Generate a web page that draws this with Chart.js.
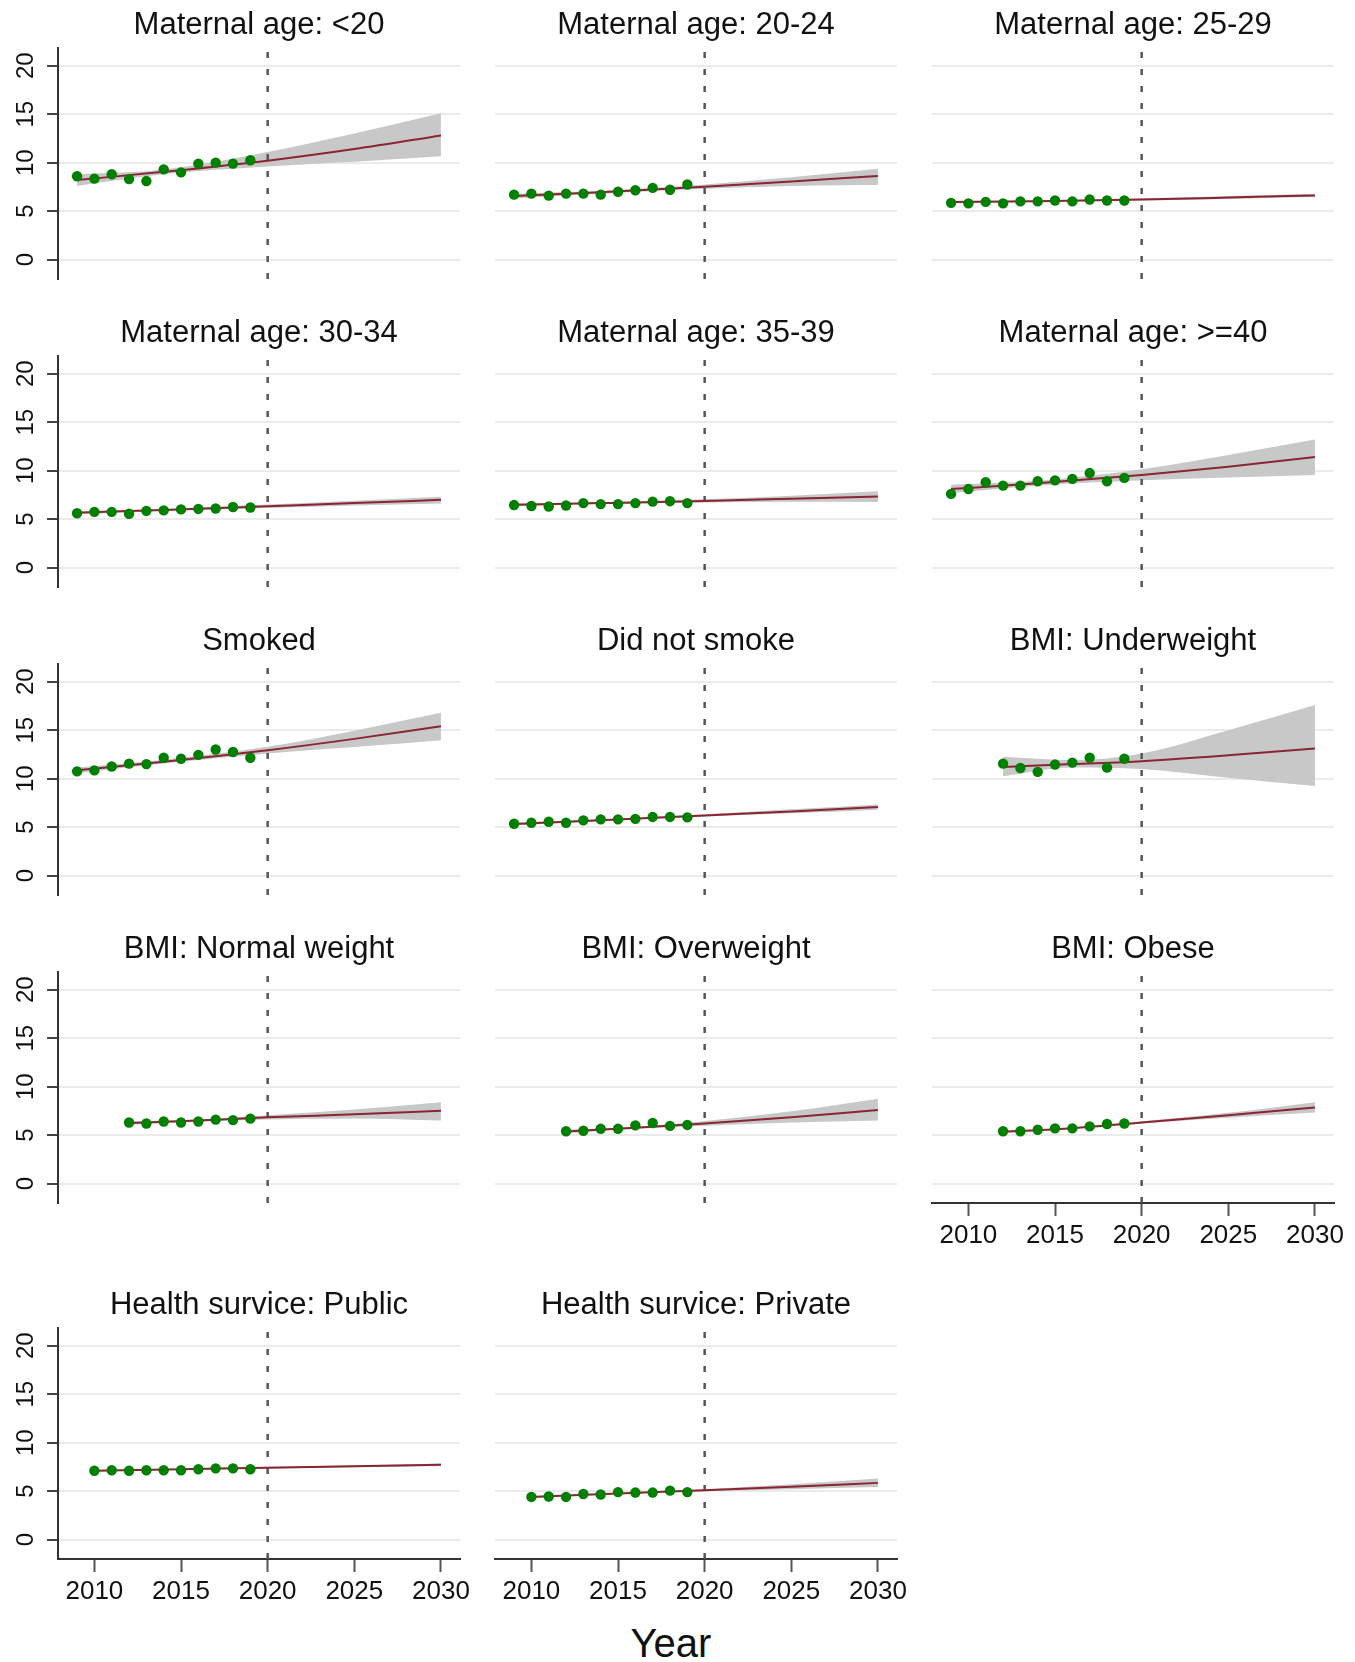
<!DOCTYPE html>
<html>
<head>
<meta charset="utf-8">
<script src="https://cdn.jsdelivr.net/npm/chart.js@4.4.1/dist/chart.umd.min.js"></script>
<style>
  html, body { margin: 0; background: #fff; }
  #wrap { position: relative; width: 1355px; height: 1662px; }
  #wrap canvas { position: absolute; }
  #xlab {
    position: absolute; left: 671px; top: 1643px; transform: translate(-50%, -50%);
    font: 40px "Liberation Sans", Arial, sans-serif; color: #111;
  }
</style>
</head>
<body>
<div id="wrap"><div id="xlab">Year</div></div>
<script>
// panel titles, in reading order
const titles = [
  'Maternal age: <20', 'Maternal age: 20-24', 'Maternal age: 25-29',
  'Maternal age: 30-34', 'Maternal age: 35-39', 'Maternal age: >=40',
  'Smoked', 'Did not smoke', 'BMI: Underweight',
  'BMI: Normal weight', 'BMI: Overweight', 'BMI: Obese',
  'Health survice: Public', 'Health survice: Private'
];
// first observed year of each panel (one point per year after it)
const firstYear = [2009, 2009, 2009, 2009, 2009, 2009, 2009, 2009, 2012, 2012, 2012, 2012, 2010, 2010];
const observed = [
  [8.6, 8.35, 8.8, 8.3, 8.1, 9.3, 9.0, 9.9, 10.0, 9.9, 10.25],
  [6.7, 6.8, 6.6, 6.8, 6.8, 6.7, 7.0, 7.15, 7.4, 7.2, 7.75],
  [5.85, 5.8, 5.95, 5.8, 6.0, 6.0, 6.1, 6.0, 6.2, 6.1, 6.1],
  [5.6, 5.75, 5.75, 5.55, 5.85, 5.9, 6.0, 6.05, 6.1, 6.25, 6.2],
  [6.45, 6.35, 6.3, 6.4, 6.65, 6.55, 6.55, 6.65, 6.8, 6.85, 6.65],
  [7.6, 8.1, 8.8, 8.45, 8.45, 8.9, 9.0, 9.15, 9.75, 8.9, 9.25],
  [10.75, 10.85, 11.25, 11.55, 11.5, 12.15, 12.05, 12.45, 13.0, 12.75, 12.15],
  [5.35, 5.45, 5.55, 5.45, 5.7, 5.8, 5.8, 5.85, 6.05, 6.05, 6.0],
  [11.55, 11.1, 10.7, 11.45, 11.65, 12.15, 11.15, 12.05],
  [6.3, 6.2, 6.4, 6.3, 6.4, 6.6, 6.55, 6.7],
  [5.4, 5.45, 5.65, 5.65, 6.0, 6.25, 5.95, 6.05],
  [5.4, 5.4, 5.55, 5.7, 5.7, 5.9, 6.15, 6.2],
  [7.1, 7.15, 7.1, 7.15, 7.15, 7.15, 7.25, 7.35, 7.35, 7.25],
  [4.4, 4.45, 4.4, 4.7, 4.65, 4.9, 4.85, 4.85, 5.05, 4.9]
];
const fitYears = [
  [2009, 2014, 2020, 2025, 2030], [2009, 2014, 2020, 2025, 2030], [2009, 2014, 2020, 2025, 2030],
  [2009, 2014, 2020, 2025, 2030], [2009, 2014, 2020, 2025, 2030], [2009, 2014, 2020, 2025, 2030],
  [2009, 2014, 2020, 2025, 2030], [2009, 2014, 2020, 2025, 2030], [2012, 2016, 2020, 2025, 2030],
  [2012, 2016, 2020, 2025, 2030], [2012, 2016, 2020, 2025, 2030], [2012, 2016, 2020, 2025, 2030],
  [2010, 2015, 2020, 2025, 2030], [2010, 2015, 2020, 2025, 2030]
];
const fitted = [
  [8.2, 9.05, 10.2, 11.4, 12.8],
  [6.55, 6.95, 7.52, 8.05, 8.62],
  [5.93, 6.03, 6.2, 6.4, 6.62],
  [5.65, 5.95, 6.33, 6.65, 6.99],
  [6.47, 6.65, 6.88, 7.1, 7.33],
  [8.1, 8.7, 9.55, 10.4, 11.4],
  [10.86, 11.75, 12.93, 14.1, 15.41],
  [5.31, 5.7, 6.21, 6.62, 7.07],
  [11.2, 11.5, 11.8, 12.4, 13.1],
  [6.24, 6.5, 6.83, 7.15, 7.52],
  [5.38, 5.75, 6.21, 6.85, 7.59],
  [5.34, 5.7, 6.31, 7.05, 7.86],
  [7.09, 7.25, 7.42, 7.57, 7.72],
  [4.4, 4.75, 5.09, 5.45, 5.85]
];
const ciLower = [
  [7.6, 8.8, 9.6, 10.1, 10.65],
  [6.3, 6.8, 7.3, 7.6, 7.7],
  [5.8, 5.97, 6.1, 6.25, 6.45],
  [5.5, 5.85, 6.15, 6.4, 6.6],
  [6.33, 6.55, 6.72, 6.78, 6.76],
  [7.7, 8.45, 9.0, 9.3, 9.55],
  [10.55, 11.55, 12.59, 13.25, 13.97],
  [5.2, 5.6, 6.1, 6.42, 6.8],
  [10.25, 11.15, 11.0, 10.1, 9.25],
  [6.08, 6.4, 6.62, 6.72, 6.5],
  [5.2, 5.65, 5.97, 6.3, 6.5],
  [5.22, 5.65, 6.2, 6.8, 7.34],
  [7.03, 7.2, 7.34, 7.47, 7.6],
  [4.3, 4.7, 4.98, 5.2, 5.42]
];
const ciUpper = [
  [8.8, 9.3, 11.1, 13.0, 15.1],
  [6.8, 7.1, 7.75, 8.5, 9.38],
  [6.06, 6.1, 6.3, 6.56, 6.8],
  [5.8, 6.05, 6.5, 6.9, 7.3],
  [6.6, 6.75, 7.05, 7.42, 7.88],
  [8.55, 8.95, 10.15, 11.6, 13.2],
  [11.15, 11.95, 13.28, 14.95, 16.8],
  [5.45, 5.8, 6.33, 6.83, 7.33],
  [12.25, 11.9, 12.6, 15.0, 17.6],
  [6.4, 6.6, 7.05, 7.65, 8.4],
  [5.55, 5.85, 6.45, 7.45, 8.75],
  [5.46, 5.76, 6.43, 7.3, 8.4],
  [7.15, 7.3, 7.5, 7.67, 7.85],
  [4.5, 4.8, 5.2, 5.7, 6.3]
];
const xTicks = [2010, 2015, 2020, 2025, 2030];
const yTicks = [0, 5, 10, 15, 20];
const refYear = 2020;

const xMin = 2007.9, xMax = 2031.1, yMin = -2, yMax = 21.8;

// layout of the 3-column grid
const colLeft = [0, 437, 874];
const rowTop = [0, 308, 616, 924, 1280];
const withXAxis = [11, 12, 13];
const FONT = '"Liberation Sans", Arial, Helvetica, sans-serif';

const wrap = document.getElementById('wrap');

titles.forEach((title, i) => {
  const row = Math.floor(i / 3), col = i % 3;
  const showX = withXAxis.includes(i);
  const showY = col === 0;

  const cv = document.createElement('canvas');
  cv.width = 480;
  cv.height = showX ? 359 : 304;
  cv.style.left = colLeft[col] + 'px';
  cv.style.top = rowTop[row] + 'px';
  wrap.appendChild(cv);

  const pts = observed[i].map((v, k) => ({ x: firstYear[i] + k, y: v }));
  const curve = arr => arr.map((v, k) => ({ x: fitYears[i][k], y: v }));

  new Chart(cv, {
    type: 'line',
    data: {
      datasets: [
        { data: pts, showLine: false, pointRadius: 5.2, pointBackgroundColor: '#008000', pointBorderWidth: 0 },
        { data: curve(fitted[i]), borderColor: '#8b2433', borderWidth: 2, pointRadius: 0, cubicInterpolationMode: 'monotone' },
        { data: [{ x: refYear, y: yMin }, { x: refYear, y: yMax }], borderColor: '#555', borderWidth: 2.5, borderDash: [6, 11], pointRadius: 0 },
        { data: curve(ciUpper[i]), borderWidth: 0, pointRadius: 0, fill: '+1', backgroundColor: '#c8c8c8', cubicInterpolationMode: 'monotone' },
        { data: curve(ciLower[i]), borderWidth: 0, pointRadius: 0, fill: false, cubicInterpolationMode: 'monotone' }
      ]
    },
    options: {
      responsive: false,
      animation: false,
      layout: { padding: { left: 0, right: 20, top: 0, bottom: showX ? 0 : 25 } },
      plugins: {
        legend: { display: false },
        tooltip: { enabled: false },
        title: {
          display: true, text: title, fullSize: false, color: '#111',
          font: { family: FONT, size: 31, weight: 'normal' },
          padding: { top: 7, bottom: 4 }
        }
      },
      scales: {
        x: {
          type: 'linear', min: xMin, max: xMax, display: showX,
          afterBuildTicks: s => { s.ticks = xTicks.map(v => ({ value: v })); },
          afterFit: s => { if (showX) s.height = 80; },
          grid: { drawOnChartArea: false, drawTicks: true, tickLength: 13, tickColor: '#555', tickWidth: 2 },
          border: { display: true, color: '#333', width: 2 },
          ticks: { font: { family: FONT, size: 26 }, color: '#111', padding: 4, maxRotation: 0, callback: v => String(v) }
        },
        y: {
          type: 'linear', min: yMin, max: yMax,
          afterBuildTicks: s => { s.ticks = yTicks.map(v => ({ value: v })); },
          afterFit: s => { s.width = 58; },
          grid: { color: '#ebebeb', lineWidth: 2, drawTicks: showY, tickLength: 11, tickColor: '#444', tickWidth: 2 },
          border: { display: showY, color: '#333', width: 2 },
          ticks: {
            display: showY, minRotation: 90, maxRotation: 90, crossAlign: 'center', padding: 7,
            font: { family: FONT, size: 24 }, color: '#111', callback: v => String(v)
          }
        }
      }
    }
  });
});
</script>
</body>
</html>
